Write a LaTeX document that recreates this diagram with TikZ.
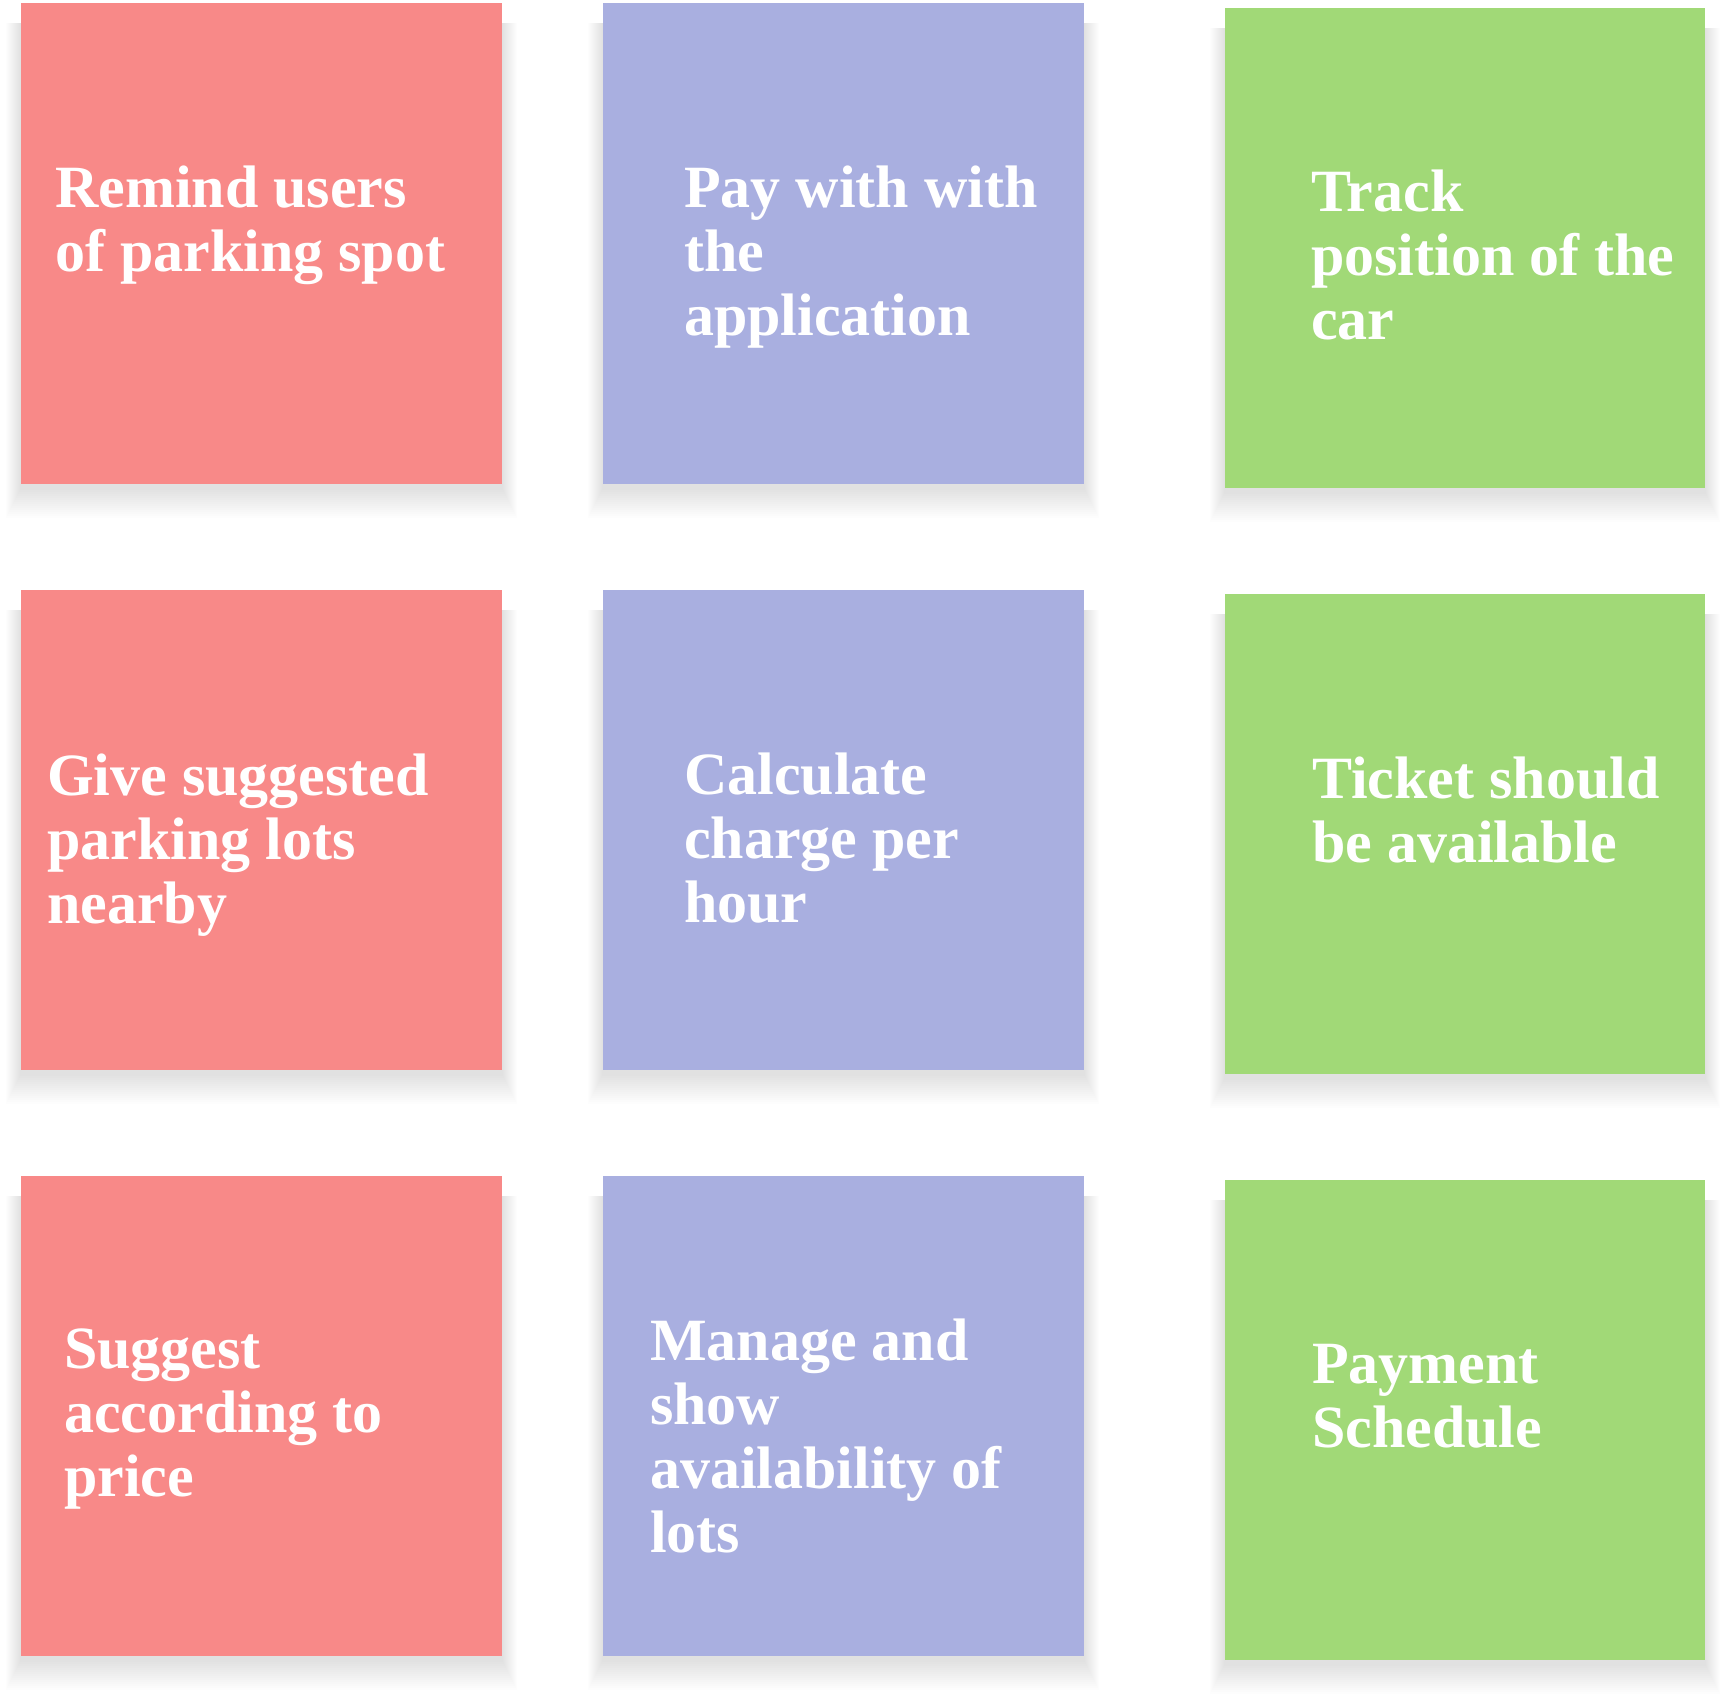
\documentclass[tikz,border=0pt]{standalone}
\usepackage{fontspec}
\setmainfont{Liberation Serif}
\definecolor{notered}{RGB}{248,137,136}
\definecolor{notepurple}{RGB}{169,175,224}
\definecolor{notegreen}{RGB}{161,217,119}
\newcommand{\notelines}[1]{\begin{tabular}[t]{@{}l@{}}#1\end{tabular}}
\newcommand{\noteshadow}[4]{%
  \foreach \r in {2,4,...,30} {
    \fill[black, opacity=0.008] (#1-\r/2,#2+20) rectangle (#3+\r/2,#4+4+\r);
  }}
\tikzset{
  notetext/.style={anchor=base west, inner sep=0pt, text=white, font=\fontsize{60}{64}\selectfont\bfseries}
}
\begin{document}
\begin{tikzpicture}[x=1pt,y=-1pt]
\useasboundingbox[fill=white] (0,0) rectangle (1725,1696);
% shadows
\noteshadow{21}{3}{502}{484}
\noteshadow{603}{3}{1084}{484}
\noteshadow{1225}{8}{1705}{488}
\noteshadow{21}{590}{502}{1070}
\noteshadow{603}{590}{1084}{1070}
\noteshadow{1225}{594}{1705}{1074}
\noteshadow{21}{1176}{502}{1656}
\noteshadow{603}{1176}{1084}{1656}
\noteshadow{1225}{1180}{1705}{1660}
% row 1
\fill[notered] (21,3) rectangle (502,484);
\fill[notepurple] (603,3) rectangle (1084,484);
\fill[notegreen] (1225,8) rectangle (1705,488);
% row 2
\fill[notered] (21,590) rectangle (502,1070);
\fill[notepurple] (603,590) rectangle (1084,1070);
\fill[notegreen] (1225,594) rectangle (1705,1074);
% row 3
\fill[notered] (21,1176) rectangle (502,1656);
\fill[notepurple] (603,1176) rectangle (1084,1656);
\fill[notegreen] (1225,1180) rectangle (1705,1660);
% texts
\node[notetext] (t1) at (55,208) {\notelines{Remind users\\of parking spot}};
\node[notetext] (t2) at (684,208) {\notelines{Pay with with\\the\\application}};
\node[notetext] (t3) at (1311,212) {\notelines{Track\\position of the\\car}};
\node[notetext] (t4) at (47,795) {\notelines{Give suggested\\parking lots\\nearby}};
\node[notetext] (t5) at (684,794) {\notelines{Calculate\\charge per\\hour}};
\node[notetext] (t6) at (1312,798) {\notelines{Ticket should\\be available}};
\node[notetext] (t7) at (64,1368) {\notelines{Suggest\\according to\\price}};
\node[notetext] (t8) at (650,1360) {\notelines{Manage and\\show\\availability of\\lots}};
\node[notetext] (t9) at (1312,1383) {\notelines{Payment\\Schedule}};
\end{tikzpicture}
\end{document}
